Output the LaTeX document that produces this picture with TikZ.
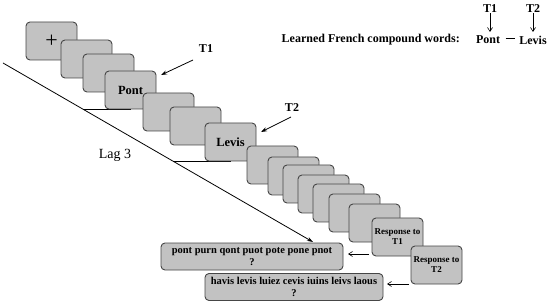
\documentclass[tikz,border=0pt]{standalone}
\usepackage{fontspec}
\setmainfont{Liberation Serif}
\usetikzlibrary{arrows.meta}
\definecolor{boxfill}{RGB}{194,194,194}
\definecolor{boxline}{RGB}{70,70,70}
\begin{document}
\begin{tikzpicture}[x=1pt,y=-1pt,
  frame/.style={draw=boxline,fill=boxfill,rounded corners=4pt,line width=0.9pt,
    minimum width=51pt,minimum height=38pt,inner sep=0pt,font=\bfseries\fontsize{12.5}{13}\selectfont},
  resp/.style={frame,font=\bfseries\fontsize{9}{10}\selectfont,align=center},
  choice/.style={draw=boxline,fill=boxfill,rounded corners=4pt,line width=0.9pt,
    minimum height=27pt,inner sep=0pt,align=center,font=\bfseries\fontsize{10.5}{11.5}\selectfont},
  lbl/.style={font=\bfseries\fontsize{12}{13}\selectfont,inner sep=0pt},
  arr/.style={-{Stealth[length=6pt,width=4pt]},line width=0.8pt},
  thinarr/.style={-{Straight Barb[length=4pt,width=5pt]},line width=0.6pt}]
\useasboundingbox (0,0) rectangle (550,305);

% diagonal and lag lines
\coordinate (s) at (3,63);
\coordinate (e) at (313,242);
\coordinate (d1) at (83,109);
\coordinate (d2) at (173,161);
\draw[line width=0.8pt] (d1) -- (130.5,109);
\draw[line width=0.8pt] (d2) -- (230.5,161);
\draw[arr] (s) -- (e);
\node[font=\fontsize{14}{15}\selectfont] (lag) at (115,155) {Lag 3};

% stimulus frames
\node[frame,font=\fontsize{22}{22}\selectfont] (b1) at (51.5,41) {+};
\node[frame] (b2) at (86.5,59) {};
\node[frame] (b3) at (108.5,73) {};
\node[frame] (b4) at (130.5,90) {Pont};
\node[frame] (b5) at (168.5,112) {};
\node[frame] (b6) at (195.5,126) {};
\node[frame] (b7) at (230.5,142) {Levis};
\node[frame] (b8) at (272.5,165) {};
\node[frame] (b9) at (293.5,176) {};
\node[frame] (b10) at (308.5,184) {};
\node[frame] (b11) at (323.5,194) {};
\node[frame] (b12) at (338.5,203) {};
\node[frame] (b13) at (354.5,213) {};
\node[frame] (b14) at (374.5,223) {};
\node[resp] (b15) at (397.5,237) {Response to\\T1};
\node[resp] (b16) at (436.5,265) {Response to\\T2};

% choice boxes
\node[choice,minimum width=182pt] (r1) at (252,256.5) {pont purn qont puot pote pone pnot\\?};
\node[choice,minimum width=178pt] (r2) at (294,287) {havis levis luiez cevis iuins leivs laous\\?};

% response arrows
\coordinate (a1s) at (369,254);
\coordinate (a1e) at (348,254);
\coordinate (a2s) at (409,284);
\coordinate (a2e) at (387,284);
\draw[thinarr] (a1s) -- (a1e);
\draw[thinarr] (a2s) -- (a2e);

% T1 / T2 labels
\node[lbl] (t1) at (206,49) {T1};
\coordinate (t1s) at (193,60);
\coordinate (t1e) at (161,75);
\draw[arr] (t1s) -- (t1e);
\node[lbl] (t2) at (292,108) {T2};
\coordinate (t2s) at (291,117);
\coordinate (t2e) at (261,132);
\draw[arr] (t2s) -- (t2e);

% legend
\node[lbl,anchor=east] (learn) at (460,40) {Learned French compound words:};
\node[lbl] (pont) at (488,40) {Pont};
\node[lbl] (dash) at (510,40) {\rule[0.3em]{9pt}{0.8pt}};
\node[lbl] (levis) at (533,40) {Levis};
\node[lbl] (lt1) at (490,9) {T1};
\node[lbl] (lt2) at (533,9) {T2};
\coordinate (p1) at (490,32);
\coordinate (p2) at (533,32);
\draw[thinarr] (lt1.south) -- (p1);
\draw[thinarr] (lt2.south) -- (p2);
\end{tikzpicture}
\end{document}
